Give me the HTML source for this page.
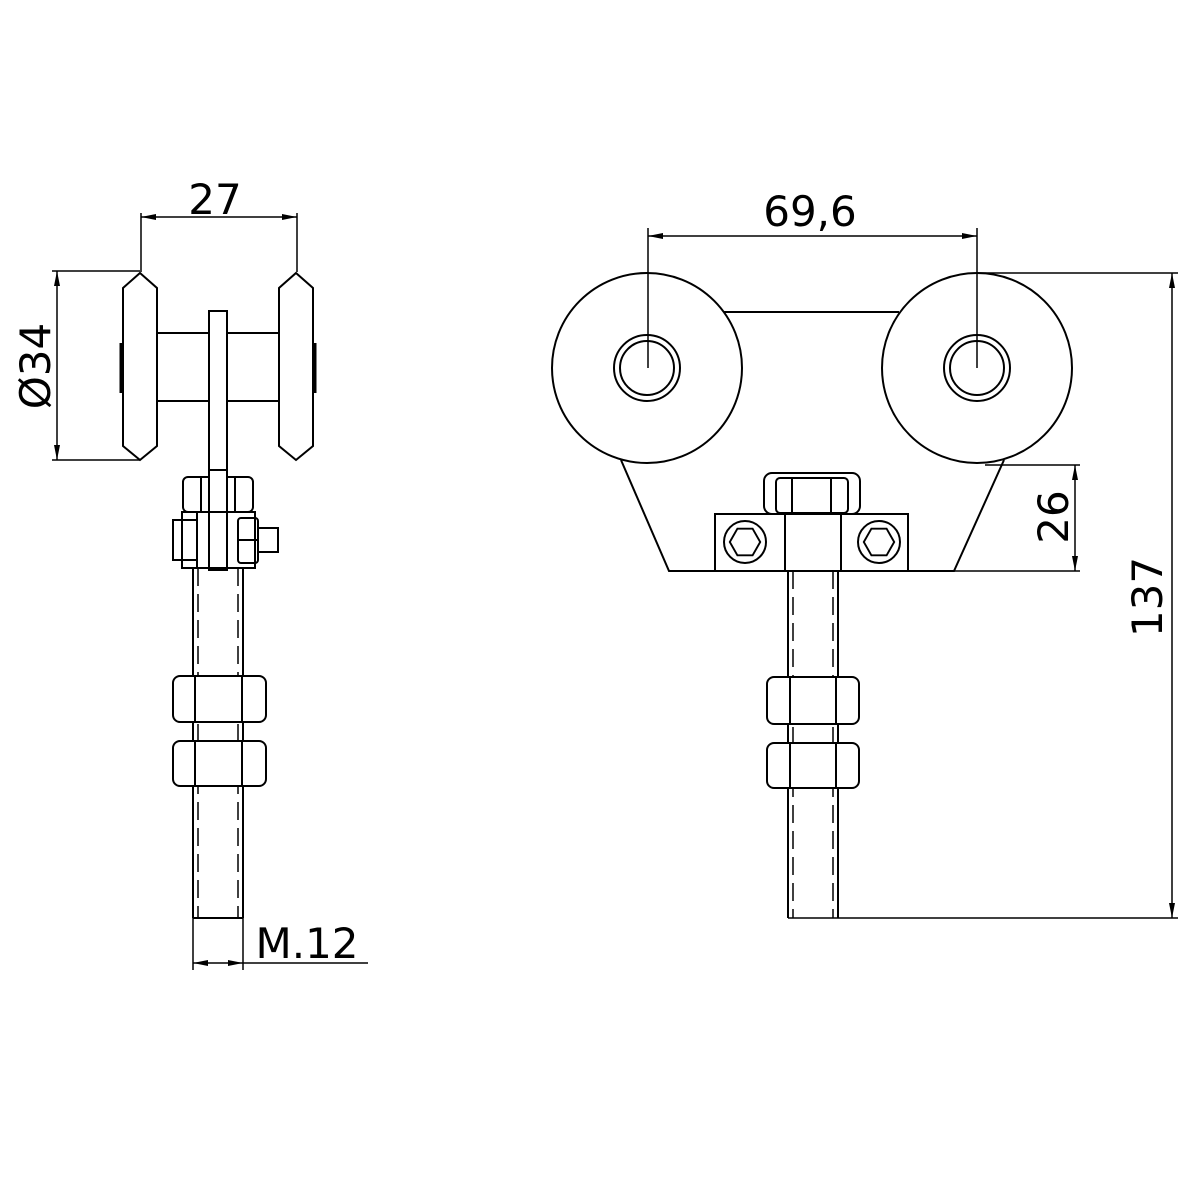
<!DOCTYPE html>
<html><head><meta charset="utf-8"><style>html,body{margin:0;padding:0;background:#fff}svg{display:block}</style></head>
<body>
<svg width="1200" height="1200" viewBox="0 0 1200 1200" xmlns="http://www.w3.org/2000/svg" fill="none" stroke="#000" stroke-width="2" font-family="'DejaVu Sans', 'Liberation Sans', sans-serif">
<!-- LEFT VIEW -->
<!-- dim 27 -->
<line x1="141" y1="213" x2="141" y2="272" stroke-width="1.5"/>
<line x1="297" y1="213" x2="297" y2="272" stroke-width="1.5"/>
<line x1="141" y1="217" x2="297" y2="217" stroke-width="1.5"/>
<path d="M141 217 L156 214 L156 220 Z M297 217 L282 214 L282 220 Z" fill="#000" stroke="none"/>
<text x="215" y="214" font-size="42" text-anchor="middle" fill="#000" stroke="none">27</text>
<!-- dim Ø34 -->
<line x1="52" y1="271" x2="140" y2="271" stroke-width="1.5"/>
<line x1="52" y1="460" x2="140" y2="460" stroke-width="1.5"/>
<line x1="57" y1="271" x2="57" y2="460" stroke-width="1.5"/>
<path d="M57 271 L54 286 L60 286 Z M57 460 L54 445 L60 445 Z" fill="#000" stroke="none"/>
<text transform="translate(50,366) rotate(-90)" font-size="42" text-anchor="middle" fill="#000" stroke="none">Ø34</text>
<!-- wheels -->
<polygon points="140,273 157,288 157,446 140,460 123,446 123,288"/>
<polygon points="296,273 313,288 313,446 296,460 279,446 279,288"/>
<line x1="121" y1="343" x2="121" y2="393" stroke-width="3"/>
<line x1="315" y1="343" x2="315" y2="393" stroke-width="3"/>
<!-- axle -->
<line x1="157" y1="333" x2="279" y2="333"/>
<line x1="157" y1="401" x2="279" y2="401"/>
<!-- plate -->
<rect x="209" y="311" width="18" height="257" fill="#fff"/>
<!-- top nut -->
<rect x="183" y="477" width="70" height="35" rx="5"/>
<line x1="201" y1="477" x2="201" y2="512"/>
<line x1="235" y1="477" x2="235" y2="512"/>
<rect x="209" y="470" width="18" height="100" fill="#fff"/>
<!-- block -->
<rect x="182" y="512" width="73" height="56"/>
<line x1="197" y1="512" x2="197" y2="568"/>
<rect x="173" y="520" width="24" height="40"/>
<rect x="238" y="518" width="20" height="45" rx="3"/>
<line x1="238" y1="540" x2="258" y2="540"/>
<rect x="258" y="528" width="20" height="24"/>
<rect x="209" y="311" width="18" height="257"/>
<!-- rod -->
<line x1="193" y1="568" x2="193" y2="918"/>
<line x1="243" y1="568" x2="243" y2="918"/>
<line x1="198" y1="568" x2="198" y2="918" stroke-dasharray="18,8" stroke-width="1.5"/>
<line x1="238" y1="568" x2="238" y2="918" stroke-dasharray="18,8" stroke-width="1.5"/>
<line x1="193" y1="918" x2="243" y2="918"/>
<!-- nuts -->
<rect x="173" y="676" width="93" height="46" rx="7" fill="#fff"/>
<line x1="195" y1="676" x2="195" y2="722"/><line x1="242" y1="676" x2="242" y2="722"/>
<rect x="173" y="741" width="93" height="45" rx="7" fill="#fff"/>
<line x1="195" y1="741" x2="195" y2="786"/><line x1="242" y1="741" x2="242" y2="786"/>
<!-- M.12 -->
<line x1="193" y1="918" x2="193" y2="970" stroke-width="1.5"/>
<line x1="243" y1="918" x2="243" y2="970" stroke-width="1.5"/>
<line x1="193" y1="963" x2="368" y2="963" stroke-width="1.5"/>
<path d="M193 963 L208 960 L208 966 Z M243 963 L228 960 L228 966 Z" fill="#000" stroke="none"/>
<text x="307" y="958" font-size="42" text-anchor="middle" fill="#000" stroke="none">M.12</text>

<!-- RIGHT VIEW -->
<line x1="648" y1="228" x2="648" y2="368" stroke-width="1.5"/>
<line x1="977" y1="228" x2="977" y2="368" stroke-width="1.5"/>
<line x1="648" y1="236" x2="977" y2="236" stroke-width="1.5"/>
<path d="M648 236 L663 233 L663 239 Z M977 236 L962 233 L962 239 Z" fill="#000" stroke="none"/>
<text x="810" y="226" font-size="42" text-anchor="middle" fill="#000" stroke="none">69,6</text>
<!-- body -->
<line x1="724" y1="312" x2="899" y2="312"/>
<polyline points="621,460 669,571 954,571 1004,460"/>
<circle cx="647" cy="368" r="95"/>
<circle cx="647" cy="368" r="33"/>
<circle cx="647" cy="368" r="27"/>
<circle cx="977" cy="368" r="95"/>
<circle cx="977" cy="368" r="33"/>
<circle cx="977" cy="368" r="27"/>
<!-- block -->
<rect x="764" y="473" width="96" height="41" rx="8"/>
<rect x="776" y="478" width="72" height="35" rx="4"/>
<line x1="792" y1="478" x2="792" y2="513"/><line x1="831" y1="478" x2="831" y2="513"/>
<rect x="715" y="514" width="193" height="57"/>
<line x1="785" y1="514" x2="785" y2="571"/><line x1="841" y1="514" x2="841" y2="571"/>
<circle cx="745" cy="542" r="21"/>
<polygon points="753,542 749,549 741,549 737,542 741,535 749,535" transform="translate(745,542) scale(1.9) translate(-745,-542)" stroke-width="1"/>
<circle cx="879" cy="542" r="21"/>
<polygon points="887,542 883,549 875,549 871,542 875,535 883,535" transform="translate(879,542) scale(1.9) translate(-879,-542)" stroke-width="1"/>
<!-- rod -->
<line x1="788" y1="571" x2="788" y2="918"/>
<line x1="838" y1="571" x2="838" y2="918"/>
<line x1="793" y1="571" x2="793" y2="918" stroke-dasharray="18,8" stroke-width="1.5"/>
<line x1="833" y1="571" x2="833" y2="918" stroke-dasharray="18,8" stroke-width="1.5"/>
<rect x="767" y="677" width="92" height="47" rx="7" fill="#fff"/>
<line x1="790" y1="677" x2="790" y2="724"/><line x1="836" y1="677" x2="836" y2="724"/>
<rect x="767" y="743" width="92" height="45" rx="7" fill="#fff"/>
<line x1="790" y1="743" x2="790" y2="788"/><line x1="836" y1="743" x2="836" y2="788"/>
<!-- 137 -->
<line x1="788" y1="918" x2="1178" y2="918" stroke-width="1.5"/>
<line x1="977" y1="273" x2="1178" y2="273" stroke-width="1.5"/>
<line x1="1172" y1="273" x2="1172" y2="918" stroke-width="1.5"/>
<path d="M1172 273 L1169 288 L1175 288 Z M1172 918 L1169 903 L1175 903 Z" fill="#000" stroke="none"/>
<text transform="translate(1162,597) rotate(-90)" font-size="42" text-anchor="middle" fill="#000" stroke="none">137</text>
<!-- 26 -->
<line x1="985" y1="465" x2="1080" y2="465" stroke-width="1.5"/>
<line x1="954" y1="571" x2="1080" y2="571" stroke-width="1.5"/>
<line x1="1075" y1="465" x2="1075" y2="571" stroke-width="1.5"/>
<path d="M1075 465 L1072 480 L1078 480 Z M1075 571 L1072 556 L1078 556 Z" fill="#000" stroke="none"/>
<text transform="translate(1068,517) rotate(-90)" font-size="42" text-anchor="middle" fill="#000" stroke="none">26</text>
</svg>
</body></html>
